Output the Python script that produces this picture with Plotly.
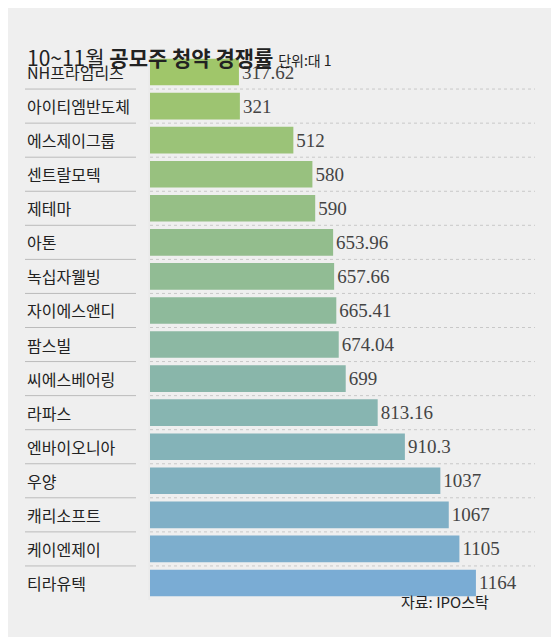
import plotly.graph_objects as go

companies = ["NH프라임리츠", "아이티엠반도체", "에스제이그룹", "센트랄모텍", "제테마", "아톤",
             "녹십자웰빙", "자이에스앤디", "팜스빌", "씨에스베어링", "라파스", "엔바이오니아",
             "우양", "캐리소프트", "케이엔제이", "티라유텍"]
rates = [317.62, 321, 512, 580, 590, 653.96, 657.66, 665.41, 674.04, 699, 813.16, 910.3,
         1037, 1067, 1105, 1164]
value_labels = ["317.62", "321", "512", "580", "590", "653.96", "657.66", "665.41", "674.04",
                "699", "813.16", "910.3", "1037", "1067", "1105", "1164"]

# green -> blue gradient down the list
c0, c1 = (160, 198, 106), (122, 172, 212)
n = len(companies)
colors = []
for i in range(n):
    t = i / (n - 1)
    colors.append("rgb(%d,%d,%d)" % tuple(round(a + (b - a) * t) for a, b in zip(c0, c1)))

fig = go.Figure(go.Bar(
    x=rates, y=list(range(n)), orientation="h", width=0.78,
    marker=dict(color=colors, line=dict(width=0)),
    text=value_labels, textposition="outside", cliponaxis=False,
    textfont=dict(family="Liberation Serif", size=19, color="#444"),
))

# page is offset by ~8px in the browser, so layout is shifted up/left
L, T = 142, 47
W = 392.0
H = 545.0
def px(p):
    return (p - 8 - L) / W

shapes = []
for i in range(n - 1):
    yb = i + 0.5
    shapes.append(dict(type="line", xref="paper", yref="y", x0=px(25), x1=px(136), y0=yb, y1=yb,
                       line=dict(color="#bbb", width=1)))
    shapes.append(dict(type="line", xref="paper", yref="y", x0=px(150), x1=px(535), y0=yb, y1=yb,
                       line=dict(color="#c8c8c8", width=1, dash="dot")))
shapes.append(dict(type="line", xref="paper", yref="paper", x0=px(149), x1=px(149), y0=0, y1=1,
                   line=dict(color="#e8e8e8", width=1)))

annotations = []
for i, c in enumerate(companies):
    annotations.append(dict(x=px(25), y=i, xref="paper", yref="y", text=c, showarrow=False,
                            xanchor="left", font=dict(family="Noto Sans CJK KR", size=16, color="#222")))
annotations.append(dict(x=px(25), y=1 + (55 - 40) / H, xref="paper", yref="paper",
                        text="10~11월 <b>공모주 청약 경쟁률</b> <span style='font-size:14px'>단위:대 1</span>",
                        showarrow=False, xanchor="left",
                        font=dict(family="Noto Sans CJK KR", size=21, color="#222")))
annotations.append(dict(x=px(445), y=-(614 - 600) / H, xref="paper", yref="paper",
                        text="자료: IPO스탁", showarrow=False, xanchor="center",
                        font=dict(family="Noto Sans CJK KR", size=15, color="#222")))

fig.update_layout(
    width=559, height=637, margin=dict(l=L, r=559 - L - int(W), t=T, b=637 - T - int(H)),
    paper_bgcolor="#efefef", plot_bgcolor="#efefef", showlegend=False,
    xaxis=dict(range=[0, 1400], visible=False),
    yaxis=dict(range=[n - 0.5, -0.5], visible=False),
    shapes=shapes, annotations=annotations,
)
fig.write_html("out.html")
